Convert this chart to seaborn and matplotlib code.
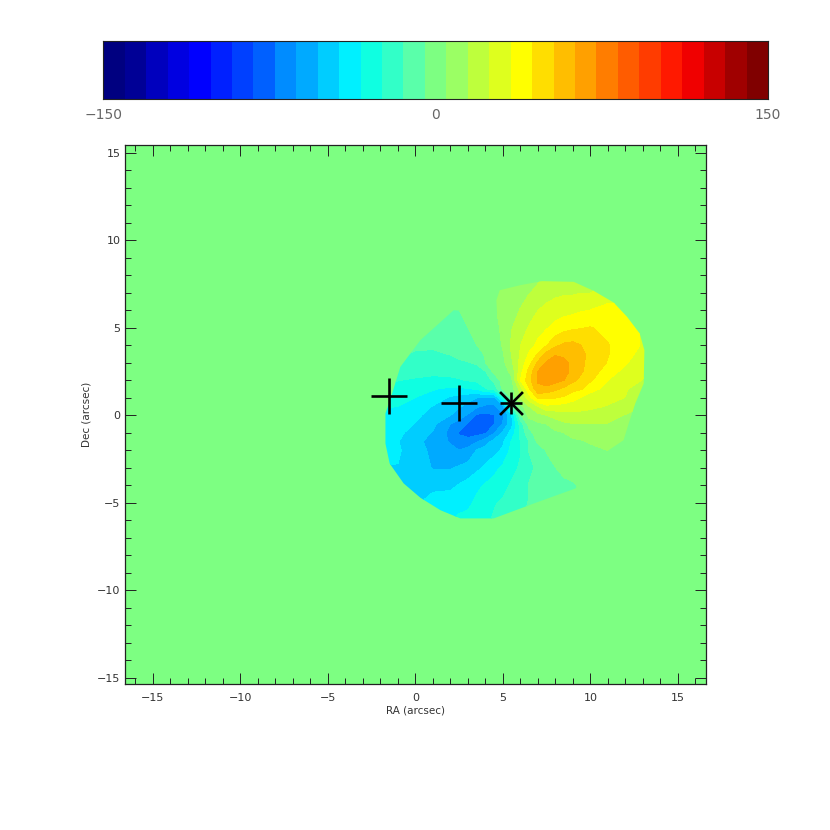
import numpy as np
import matplotlib
matplotlib.use("Agg")
import matplotlib.pyplot as plt
from matplotlib.colors import ListedColormap
from matplotlib.patches import Polygon
from matplotlib.ticker import MultipleLocator
import seaborn as sns

# colour table
band_colors = [
    (0, 0, 128), (0, 0, 150), (0, 0, 190), (0, 0, 225), (0, 0, 255),
    (0, 32, 255), (0, 64, 255), (0, 96, 255), (0, 140, 255), (0, 170, 255),
    (0, 205, 255), (0, 240, 255), (15, 255, 225), (50, 255, 200), (90, 255, 170),
    (125, 255, 130), (155, 255, 100), (190, 255, 60), (222, 255, 30), (255, 255, 0),
    (255, 222, 0), (255, 190, 0), (255, 160, 0), (255, 125, 0), (255, 92, 0),
    (255, 60, 0), (255, 25, 0), (240, 0, 0), (200, 0, 0), (160, 0, 0), (128, 0, 0),
]
cbar_ticks = [-150, -100, -50, 0, 50, 100, 150]
cbar_labels = ["\u2212150", "", "", "0", "", "", "150"]

# velocity field, one row per Dec, one column per RA
ra_grid = [-3, -2, -1, 0, 1, 2, 2.5, 3, 3.5, 4, 4.5, 5, 5.5, 6, 6.5, 7, 7.5, 8, 8.5, 9, 9.5, 10, 11, 12, 13, 14]
dec_grid = [8, 7, 6, 5, 4, 3.5, 3, 2.5, 2, 1.5, 1, 0.5, 0, -0.5, -1, -1.5, -2, -3, -4, -5, -6]
row_p80 = [-7, -7, -7, -7, -7, -6, -3, 0, 1, 2, 5, 8, 9, 10, 11, 12, 15, 18, 19, 20, 21, 22, 24, 26, 28, 28]
row_p70 = [-7, -7, -7, -7, -7, -7, -3, 0, 1, 3, 6, 9, 10, 11, 14, 17, 20, 22, 23, 23, 24, 24, 27, 30, 30, 30]
row_p60 = [-9, -9, -9, -9, -9, -9, -5, -2, 0, 1, 4, 7, 10, 15, 20, 24, 27, 29, 30, 31, 33, 34, 38, 36, 34, 30]
row_p50 = [-9, -9, -9, -9, -9, -9, -7, -5, -2, 1, 3, 6, 14, 20, 25, 30, 33, 37, 40, 42, 43, 44, 41, 38, 33, 30]
row_p40 = [-10, -10, -10, -12, -13, -11, -10, -8, -5, -2, 1, 5.5, 16, 24, 30, 36, 43, 51, 55, 56, 53, 51, 44, 38, 33, 30]
row_p35 = [-12, -12, -12, -16, -16, -14, -12, -11, -8, -4, -1, 4, 15, 25, 35, 44, 56, 62, 60, 57, 55, 51, 44, 38, 30, 27]
row_p30 = [-17, -17, -17, -19, -19, -18, -16, -15, -13.5, -5, 0, 2, 13, 27, 40, 55, 64, 67, 66, 60, 55, 50, 43, 35, 27, 26]
row_p25 = [-21, -21, -21, -22, -22.5, -21.5, -20.5, -19.5, -18, -15, -2, 1, 7, 30, 47, 63, 68, 70, 67, 59.5, 54, 49, 38.5, 31, 25, 24]
row_p20 = [-24, -24, -24, -25, -26, -26, -25, -23.5, -22, -20, -12, -1, 3, 34, 50, 64, 68, 67, 63, 55, 51, 45, 34, 27, 24, 22]
row_p15 = [-26, -26, -26, -30, -33, -36, -36, -34.5, -33, -25, -21, -3, 0, 18, 42, 61, 60, 55, 51, 47, 44, 37, 31, 25, 20, 18]
row_p10 = [-28, -28, -28, -34, -38, -45, -47, -50, -53, -53, -55, -30, -3, 15, 30, 45, 45, 44, 42, 37, 33, 30, 27, 24, 16, 14]
row_p05 = [-33, -33, -34, -37.5, -44, -49, -52, -56, -61, -65, -65, -57, -15, 0, 14, 24, 32, 31, 30, 29, 28, 26.5, 23.5, 20, 14, 12]
row_000 = [-35, -35, -36, -41, -48, -53, -59, -64, -74, -75, -73, -65, -44, -6, 8, 12, 14.5, 18, 20, 21, 20.5, 20, 19, 14, 11, 10]
row_m05 = [-35, -35, -38, -44, -51, -63, -66, -74, -79, -77, -73, -62, -47, -20, -1, 3, 5, 10, 13, 14, 14, 14, 14, 11, 8, 8]
row_m10 = [-35, -35, -41, -48, -54, -66, -74, -77, -77, -74, -64, -52, -40, -22, -8, 0, 1, 3, 5, 8, 9, 9, 10, 8, 5, 5]
row_m15 = [-36, -36, -43, -51, -56, -64, -68, -69, -64, -58, -50, -45, -33, -24, -14, -3, 0, 0, 1, 3, 4, 6, 7, 6, 3, 3]
row_m20 = [-38, -38, -42, -50, -55, -60, -63, -60, -53, -49, -47, -42, -31, -25, -14, -10, -4, 0, 0, 0, 1, 2, 5, 3, 2, 2]
row_m30 = [-44, -44, -44, -47, -54, -54, -52, -50, -46, -42, -37, -32, -27, -23, -17, -12.5, -9, -5, -2, 0, 0, 0, 0, 0, 0, 0]
row_m40 = [-44, -44, -44, -45, -46, -46, -43, -40, -36, -33, -30, -27, -23, -20, -14, -11, -9.5, -8, -7, -6, -3, 0, 0, 0, 0, 0]
row_m50 = [-44, -44, -44, -45, -40, -38, -37, -36, -32, -28, -25, -23, -20, -18, -14, -12, -10, -9, -8, -8, -4, 0, 0, 0, 0, 0]
row_m60 = [-40, -40, -40, -40, -38, -34, -32, -31, -28, -26, -23, -20, -17, -15, -13, -12, -10, -9, -8, -8, -4, 0, 0, 0, 0, 0]

# outer edge of the mapped region
edge_ra = [4.67, 4.63, 4.82, 6.0, 7.24, 9.05, 10.2, 11.33, 12.1, 12.82, 13.09, 13.05,
           12.57, 12.19, 11.9, 11.05, 9.14, 6.76, 4.48, 2.57, 1.43, 0.29, -0.67, -1.47,
           -1.71, -1.71, -1.33, -0.86, 0.29, 2.19]
edge_dec = [5.81, 6.57, 7.14, 7.43, 7.66, 7.62, 7.1, 6.44, 5.62, 4.67, 3.71, 1.81,
            0.67, -0.48, -1.43, -2.0, -4.19, -5.05, -5.9, -5.9, -5.43, -4.72, -3.9, -2.76,
            -1.62, 0.1, 1.24, 2.76, 4.29, 6.0]

plus_ra = [-1.5, 2.5]
plus_dec = [1.1, 0.7]
star_ra = [5.49]
star_dec = [0.72]

sns.set_style("ticks")
plt.rcParams["font.family"] = ["DejaVu Sans"]

W = 830.0
palette = [(r / 255, g / 255, b / 255) for r, g, b in band_colors]
field = np.array([row_p80, row_p70, row_p60, row_p50, row_p40, row_p35, row_p30, row_p25,
                  row_p20, row_p15, row_p10, row_p05, row_000, row_m05, row_m10, row_m15,
                  row_m20, row_m30, row_m40, row_m50, row_m60], dtype=float)
levels = np.linspace(-150, 150, len(palette) + 1)

fig = plt.figure(figsize=(8.3, 8.3), dpi=100)

# colour bar
cax = fig.add_axes([103.3 / W, 1 - 99.3 / W, 664.7 / W, 58.3 / W])
sns.heatmap([(levels[:-1] + levels[1:]) / 2], ax=cax, cmap=ListedColormap(palette),
            vmin=-150, vmax=150, cbar=False, xticklabels=False, yticklabels=False)
for s in cax.spines.values():
    s.set_visible(True)
    s.set_linewidth(0.8)
    s.set_color("#222222")
cax.set_xticks([(v + 150) / 300 * len(palette) for v in cbar_ticks], cbar_labels)
cax.tick_params(axis="x", direction="in", top=True, bottom=True, width=0.7, length=5,
                color="#222222", labelsize=10, labelcolor="#666666", pad=6)
cax.set_yticks([])
for tick, v in zip(cax.xaxis.get_major_ticks(), cbar_ticks):
    tick.tick1line.set_markersize(10 if v == 0 else 5)
    tick.tick2line.set_markersize(1)

# map
ax = fig.add_axes([124.6 / W, 1 - 684.3 / W, 581.2 / W, 539.3 / W])
ax.set_facecolor(palette[15])
cs = ax.contourf(ra_grid, dec_grid, field, levels=levels, colors=palette)
region = Polygon(np.column_stack([edge_ra, edge_dec]), closed=True, transform=ax.transData,
                 facecolor="none", edgecolor="none")
ax.add_patch(region)
cs.set_clip_path(region)

sns.scatterplot(x=plus_ra, y=plus_dec, ax=ax, marker="+", s=697, color="black",
                linewidth=1.9, zorder=5)
sns.scatterplot(x=star_ra, y=star_dec, ax=ax, marker="+", s=272, color="black",
                linewidth=1.9, zorder=5)
sns.scatterplot(x=star_ra, y=star_dec, ax=ax, marker="x", s=272, color="black",
                linewidth=1.9, zorder=5)

ax.set_xlim(-16.62, 16.6)
ax.set_ylim(-15.38, 15.44)
ax.xaxis.set_major_locator(MultipleLocator(5))
ax.xaxis.set_minor_locator(MultipleLocator(1))
ax.yaxis.set_major_locator(MultipleLocator(5))
ax.yaxis.set_minor_locator(MultipleLocator(1))
ax.tick_params(which="both", direction="in", top=True, right=True, width=0.7,
               color="#222222", labelsize=8, labelcolor="#333333")
ax.tick_params(which="major", length=8)
ax.tick_params(axis="x", which="major", pad=6)
ax.tick_params(axis="y", which="major", pad=3)
ax.tick_params(which="minor", length=4)
for s in ax.spines.values():
    s.set_linewidth(0.9)
    s.set_color("#222222")
ax.set_xlabel("RA (arcsec)", fontsize=7.5, color="#333333", labelpad=2)
ax.set_ylabel("Dec (arcsec)", fontsize=7.5, color="#333333", labelpad=4)

fig.savefig("out.png", dpi=100)
